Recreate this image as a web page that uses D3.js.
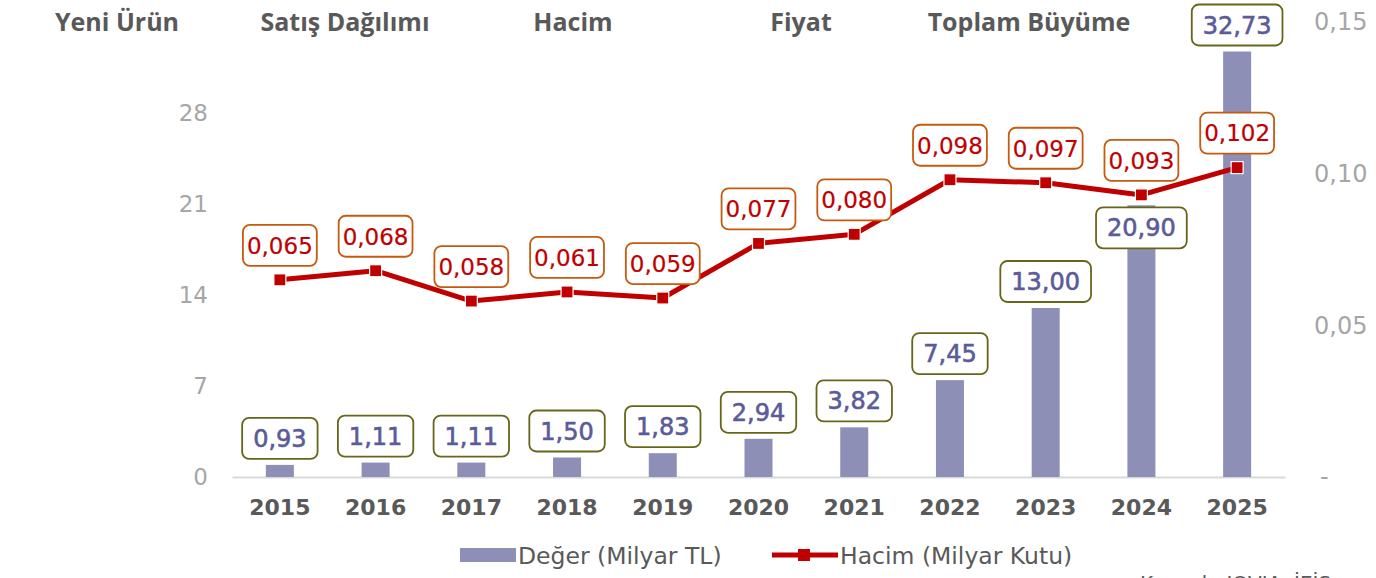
<!DOCTYPE html>
<html>
<head>
<meta charset="utf-8">
<script src="https://cdn.jsdelivr.net/npm/d3@7/dist/d3.min.js"></script>
<style>
    html, body { margin: 0; padding: 0; background: #fff; overflow: hidden; }
    svg { display: block; }
    .axis text { font-family: 'DejaVu Sans', Verdana, sans-serif; }
</style>
</head>
<body>
<svg id="chart" width="1376" height="578"></svg>
<script>
const years = ['2015', '2016', '2017', '2018', '2019', '2020', '2021', '2022', '2023', '2024', '2025']
const valueBn = [0.93, 1.11, 1.11, 1.50, 1.83, 2.94, 3.82, 7.45, 13.00, 20.90, 32.73]
const volumeBn = [0.065, 0.068, 0.058, 0.061, 0.059, 0.077, 0.080, 0.098, 0.097, 0.093, 0.102]
const leftTicks = [0, 7, 14, 21, 28]
const rightTicks = [0, 0.05, 0.10, 0.15]
const headers = ['Yeni Ürün', 'Satış Dağılımı', 'Hacim', 'Fiyat', 'Toplam Büyüme']
const legendNames = ['Değer (Milyar TL)', 'Hacim (Milyar Kutu)']

const BAR_COLOR = '#8d8fb6'
const LINE_COLOR = '#c00000'
const TEXT_DARK = '#595959'
const AXIS_GRAY = '#a6a6a6'

const tr = d3.formatLocale({decimal: ',', thousands: '.', grouping: [3], currency: ['', '']})
const fmt2 = tr.format('.2f')
const fmt3 = tr.format('.3f')

const svg = d3.select('#chart')

const x = d3.scaleBand().domain(years).range([232, 1285])
const yLeft = d3.scaleLinear().domain([0, 35]).range([477, 22])
const yRight = d3.scaleLinear().domain([0, 0.15]).range([477, 22])
const cx = (d) => x(d) + x.bandwidth() / 2

// header row
const h = d3.scaleBand().domain(headers).range([3, 1143])
svg.append('g')
    .selectAll('text')
    .data(headers)
    .join('text')
    .attr('x', d => h(d) + h.bandwidth() / 2)
    .attr('y', 31)
    .attr('text-anchor', 'middle')
    .attr('font-family', "'Open Sans', sans-serif")
    .attr('font-weight', 700)
    .attr('font-size', 25)
    .attr('fill', TEXT_DARK)
    .text(d => d)

// axes
const leftAxis = svg.append('g')
    .attr('class', 'axis')
    .attr('transform', 'translate(212,0)')
    .call(d3.axisLeft(yLeft).tickValues(leftTicks).tickSize(0).tickPadding(4))
leftAxis.select('.domain').remove()
leftAxis.selectAll('text').attr('font-size', 23).attr('fill', AXIS_GRAY)

const rightAxis = svg.append('g')
    .attr('class', 'axis')
    .attr('transform', 'translate(1310,0)')
    .call(d3.axisRight(yRight).tickValues(rightTicks).tickSize(0).tickPadding(4)
        .tickFormat(d => d === 0 ? '-' : fmt2(d)))
rightAxis.select('.domain').remove()
rightAxis.selectAll('text')
    .attr('font-family', "'Liberation Sans', Arial, sans-serif")
    .attr('font-size', 24)
    .attr('fill', AXIS_GRAY)
rightAxis.selectAll('.tick')
    .filter(d => d === 0)
    .select('text')
    .attr('dx', 6)

const xAxis = svg.append('g')
    .attr('class', 'axis')
    .attr('transform', `translate(0,${yLeft(0)})`)
    .call(d3.axisBottom(x).tickSize(0).tickSizeOuter(0).tickPadding(22))
xAxis.select('.domain').attr('stroke', '#d9d9d9').attr('stroke-width', 2)
xAxis.selectAll('text')
    .attr('font-size', 22)
    .attr('font-weight', 700)
    .attr('fill', TEXT_DARK)

// bars
const BAR_W = 28
svg.append('g')
    .selectAll('rect')
    .data(valueBn)
    .join('rect')
    .attr('x', (d, i) => cx(years[i]) - BAR_W / 2)
    .attr('y', d => yLeft(d))
    .attr('width', BAR_W)
    .attr('height', d => yLeft(0) - yLeft(d))
    .attr('fill', BAR_COLOR)

// line
const line = d3.line()
    .x((d, i) => cx(years[i]))
    .y(d => yRight(d))
svg.append('path')
    .datum(volumeBn)
    .attr('d', line)
    .attr('fill', 'none')
    .attr('stroke', LINE_COLOR)
    .attr('stroke-width', 5)
    .attr('stroke-linejoin', 'round')

const MARK = 12
svg.append('g')
    .selectAll('rect')
    .data(volumeBn)
    .join('rect')
    .attr('x', (d, i) => cx(years[i]) - MARK / 2)
    .attr('y', d => yRight(d) - MARK / 2)
    .attr('width', MARK)
    .attr('height', MARK)
    .attr('fill', LINE_COLOR)
    .attr('stroke', '#fff')
    .attr('stroke-width', 1.2)

// data labels
const BOX_H = 41
function addLabel(g, text, centerX, top, opts) {
    const label = g.append('g')
    const box = label.append('rect')
    const t = label.append('text')
        .attr('x', centerX)
        .attr('y', top + BOX_H / 2)
        .attr('dy', '0.36em')
        .attr('text-anchor', 'middle')
        .attr('font-family', "'DejaVu Sans', Verdana, sans-serif")
        .attr('font-size', opts.size)
        .attr('fill', opts.color)
        .attr('stroke', opts.color)
        .attr('stroke-width', opts.weight)
        .text(text)
    const w = t.node().getComputedTextLength() + opts.pad * 2
    box.attr('x', centerX - w / 2)
        .attr('y', top)
        .attr('width', w)
        .attr('height', BOX_H)
        .attr('rx', 7)
        .attr('fill', '#fff')
        .attr('stroke', opts.stroke)
        .attr('stroke-width', 1.8)
}

const labels = svg.append('g')
valueBn.forEach((v, i) => {
    const barTop = yLeft(v)
    const markY = yRight(volumeBn[i])
    let top = barTop - 6 - BOX_H
    // if the box would sit on the line marker, drop it into the bar
    if (markY > top - 8 && markY < top + BOX_H + 8) {
        top = barTop + 2
    }
    top = Math.max(top, 2)
    addLabel(labels, fmt2(v), cx(years[i]), top,
        {size: 24, color: '#5b5b9a', stroke: '#66661a', pad: 11, weight: 0.6})
})
volumeBn.forEach((v, i) => {
    const top = yRight(v) - 14 - BOX_H
    addLabel(labels, fmt3(v), cx(years[i]), top,
        {size: 23, color: LINE_COLOR, stroke: '#c55a11', pad: 4, weight: 0.2})
})

// legend
const legend = svg.append('g').attr('font-family', "'DejaVu Sans', Verdana, sans-serif")
    .attr('font-size', 23.5).attr('fill', TEXT_DARK)
legend.append('rect')
    .attr('x', 460).attr('y', 548).attr('width', 56).attr('height', 14)
    .attr('fill', BAR_COLOR)
legend.append('text').attr('x', 518).attr('y', 564).text(legendNames[0])
legend.append('line')
    .attr('x1', 772).attr('x2', 838).attr('y1', 555).attr('y2', 555)
    .attr('stroke', LINE_COLOR).attr('stroke-width', 5)
legend.append('rect')
    .attr('x', 798).attr('y', 549).attr('width', 12).attr('height', 12)
    .attr('fill', LINE_COLOR)
legend.append('text').attr('x', 840).attr('y', 564).text(legendNames[1])

// source note, cut by the bottom edge as in the original
svg.append('text')
    .attr('x', 1140).attr('y', 590)
    .attr('font-family', "'DejaVu Sans', Verdana, sans-serif")
    .attr('font-size', 20)
    .attr('fill', TEXT_DARK)
    .text('Kaynak: IQVIA, İEİS')
</script>
</body>
</html>
